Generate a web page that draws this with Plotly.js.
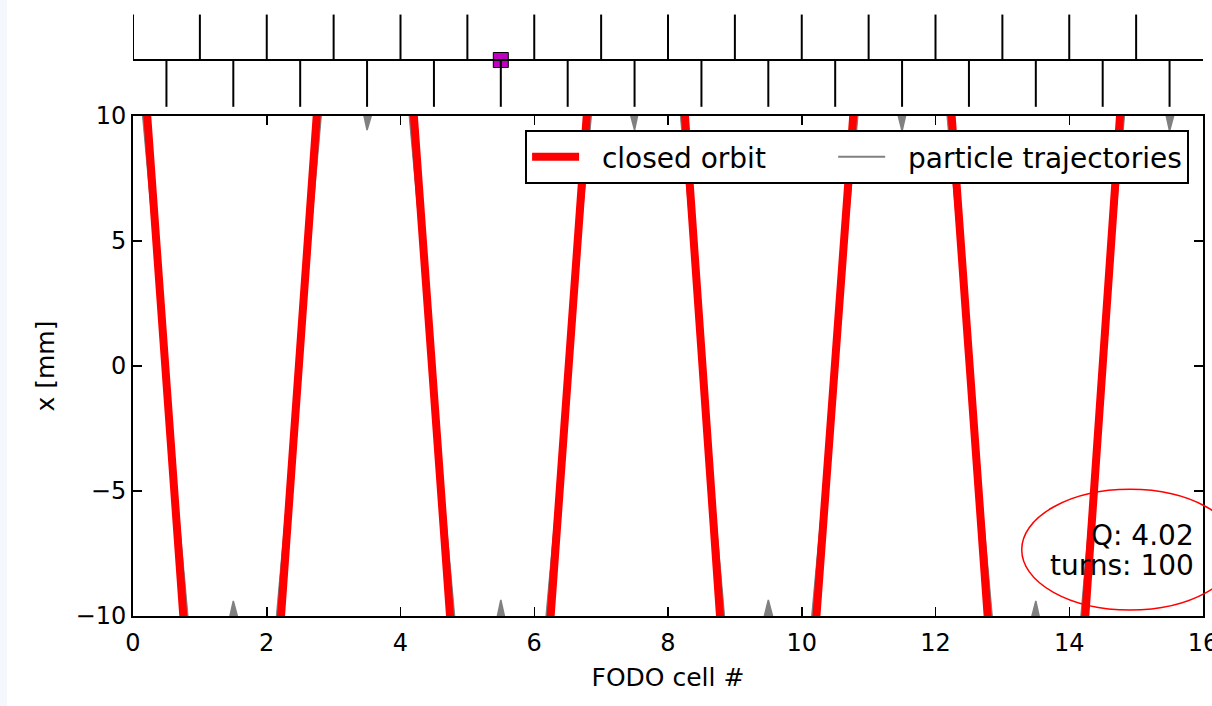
<!DOCTYPE html>
<html>
<head>
<meta charset="utf-8">
<script src="https://cdn.plot.ly/plotly-3.0.1.min.js"></script>
<style>
  html, body { margin: 0; padding: 0; background: #ffffff; }
  #chart { width: 1212px; height: 706px; }
  #strip { position: fixed; left: 0; top: 0; width: 7px; height: 706px; background: #f4f7fc; pointer-events: none; }
</style>
</head>
<body>
<div id="chart"></div>
<div id="strip"></div>
<script>
// ---- data ----
const cellPos = [0,0.5,1,1.5,2,2.5,3,3.5,4,4.5,5,5.5,6,6.5,7,7.5,8,8.5,9,9.5,10,10.5,11,11.5,12,12.5,13,13.5,14,14.5,15,15.5,16];
const closedOrbit = [17.9,-0.6,-19.2,-11.75,-18.0,0.75,19.5,11.8,17.4,-1.1,-19.6,-11.7,-19.1,-0.54,18.0,11.8,19.7,0.6,-18.5,-11.7,-18.0,0.2,18.4,11.75,19.0,0.4,-18.2,-11.75,-19.3,0.04,19.3,11.75,17.9];
const trajA = [14.32,-0.48,-15.36,-9.40,-14.40,0.60,15.60,9.44,13.92,-0.88,-15.68,-9.36,-15.28,-0.43,14.40,9.44,15.76,0.48,-14.80,-9.36,-14.40,0.16,14.72,9.40,15.20,0.32,-14.56,-9.40,-15.44,0.03,15.44,9.40,14.32];
const trajB = [14.86,-0.50,-15.94,-9.75,-14.94,0.62,16.19,9.79,14.44,-0.91,-16.27,-9.71,-15.85,-0.45,14.94,9.79,16.35,0.50,-15.36,-9.71,-14.94,0.17,15.27,9.75,15.77,0.33,-15.11,-9.75,-16.02,0.03,16.02,9.75,14.86];
const trajC = [15.75,-0.53,-16.90,-10.34,-15.84,0.66,17.16,10.38,15.31,-0.97,-17.25,-10.30,-16.81,-0.48,15.84,10.38,17.34,0.53,-16.28,-10.30,-15.84,0.18,16.19,10.34,16.72,0.35,-16.02,-10.34,-16.98,0.04,16.98,10.34,15.75];
const trajD = [17.01,-0.57,-18.24,-11.16,-17.10,0.71,18.53,11.21,16.53,-1.05,-18.62,-11.12,-18.15,-0.51,17.10,11.21,18.72,0.57,-17.58,-11.12,-17.10,0.19,17.48,11.16,18.05,0.38,-17.29,-11.16,-18.34,0.04,18.34,11.16,17.01];
const trajE = [18.97,-0.64,-20.35,-12.46,-19.08,0.80,20.67,12.51,18.44,-1.17,-20.78,-12.40,-20.25,-0.57,19.08,12.51,20.88,0.64,-19.61,-12.40,-19.08,0.21,19.50,12.46,20.14,0.42,-19.29,-12.46,-20.46,0.04,20.46,12.46,18.97];

const focusQuads = [0,1,2,3,4,5,6,7,8,9,10,11,12,13,14,15];
const defocusQuads = [0.5,1.5,2.5,3.5,4.5,5.5,6.5,7.5,8.5,9.5,10.5,11.5,12.5,13.5,14.5,15.5];
const latticeSpan = [0, 16];
const kickerPos = [5.5];

const xTickVals = [0,2,4,6,8,10,12,14,16];
const xTickText = ['0','2','4','6','8','10','12','14','16'];
const yTickVals = [-10,-5,0,5,10];
const yTickText = ['\u221210','\u22125','0','5','10'];

const legendNames = ['closed orbit', 'particle trajectories'];
const infoLines = ['Q: 4.02', 'turns: 100'];

// ---- build traces ----
function stems(positions, top) {
  const xs = [], ys = [];
  positions.forEach(p => { xs.push(p, p, null); ys.push(0, top, null); });
  return {xs, ys};
}
const NB = '\u00a0';
const FONT = 'DejaVu Sans, Liberation Sans, sans-serif';
const GRAY = '#808080';
const traces = [];

// envelope of the particle trajectories (dense band), then individual trajectories
traces.push({x: cellPos, y: trajE, type: 'scatter', mode: 'lines', line: {color: GRAY, width: 1.5},
  showlegend: false, xaxis: 'x', yaxis: 'y', hoverinfo: 'skip'});
traces.push({x: cellPos, y: trajA, type: 'scatter', mode: 'lines', line: {color: GRAY, width: 1.5},
  fill: 'tonexty', fillcolor: GRAY, showlegend: false, xaxis: 'x', yaxis: 'y', hoverinfo: 'skip'});
[trajB, trajC, trajD].forEach((t, i) => {
  traces.push({
    x: cellPos, y: t, type: 'scatter', mode: 'lines',
    line: {color: GRAY, width: 2},
    name: NB + NB + legendNames[1], showlegend: i === 0, legendrank: 2,
    xaxis: 'x', yaxis: 'y', hoverinfo: 'skip'
  });
});
traces.push({
  x: cellPos, y: closedOrbit, type: 'scatter', mode: 'lines',
  line: {color: '#ff0000', width: 8},
  name: NB + NB + legendNames[0] + NB.repeat(7), showlegend: true, legendrank: 1,
  xaxis: 'x', yaxis: 'y', hoverinfo: 'skip'
});

// lattice
traces.push({
  x: kickerPos, y: kickerPos.map(() => 0), type: 'scatter', mode: 'markers',
  marker: {symbol: 'square', size: 15, color: '#bf00bf', line: {color: '#000000', width: 1}},
  showlegend: false, xaxis: 'x2', yaxis: 'y2', cliponaxis: false, hoverinfo: 'skip'
});
const up = stems(focusQuads, 1);
const dn = stems(defocusQuads, -1.03);
[up, dn].forEach(s => traces.push({
  x: s.xs, y: s.ys, type: 'scatter', mode: 'lines',
  line: {color: '#000000', width: 2}, showlegend: false, xaxis: 'x2', yaxis: 'y2', hoverinfo: 'skip', cliponaxis: false
}));
traces.push({
  x: latticeSpan, y: [0, 0], type: 'scatter', mode: 'lines',
  line: {color: '#000000', width: 2}, showlegend: false, xaxis: 'x2', yaxis: 'y2', hoverinfo: 'skip', cliponaxis: false
});

const axisStyle = {
  showgrid: false, zeroline: false, showline: true, linecolor: '#000000', linewidth: 2,
  mirror: 'ticks', ticks: 'inside', ticklen: 9, tickwidth: 1.5, tickcolor: '#000000',
  ticklabeloverflow: 'allow',
  tickfont: {family: FONT, size: 24, color: '#000000'}
};

const layout = {
  width: 1212, height: 706,
  margin: {l: 133, r: 9, t: 10, b: 90},
  paper_bgcolor: '#ffffff', plot_bgcolor: '#ffffff',
  font: {family: FONT, color: '#000000'},
  xaxis: Object.assign({}, axisStyle, {
    domain: [0, 1], anchor: 'y', range: [0, 16],
    tickvals: xTickVals, ticktext: xTickText, ticklabelstandoff: 4,
    title: {text: 'FODO cell #', font: {family: FONT, size: 25, color: '#000000'}, standoff: 13}
  }),
  yaxis: Object.assign({}, axisStyle, {
    domain: [0, 0.8251], anchor: 'x', range: [-10, 10],
    tickvals: yTickVals, ticktext: yTickText, ticklabelstandoff: 0,
    title: {text: 'x [mm]', font: {family: FONT, size: 25, color: '#000000'}, standoff: 14}
  }),
  xaxis2: {domain: [0, 1], anchor: 'y2', range: [0, 16], visible: false, matches: 'x'},
  yaxis2: {domain: [0.835, 1], anchor: 'x2', range: [-1.1, 1.1], visible: false},
  showlegend: true,
  legend: {
    orientation: 'h', x: 0.987, xanchor: 'right', y: 0.802, yanchor: 'top', traceorder: 'normal',
    bgcolor: '#ffffff', bordercolor: '#000000', borderwidth: 2,
    font: {family: FONT, size: 28, color: '#000000'}, itemwidth: 47
  },
  annotations: [
    {xref: 'x', yref: 'y', x: 15.9, y: -6.8, text: infoLines[0], showarrow: false,
     xanchor: 'right', yanchor: 'middle', font: {family: FONT, size: 28, color: '#000000'}},
    {xref: 'x', yref: 'y', x: 15.9, y: -8.0, text: infoLines[1], showarrow: false,
     xanchor: 'right', yanchor: 'middle', font: {family: FONT, size: 28, color: '#000000'}}
  ],
  shapes: [
    {type: 'circle', xref: 'paper', yref: 'paper', x0: 0.8306, x1: 1.033, y0: 0.0099, y1: 0.209,
     line: {color: '#ff0000', width: 1.5}, fillcolor: 'rgba(0,0,0,0)', layer: 'above'}
  ]
};

Plotly.newPlot('chart', traces, layout, {displayModeBar: false, staticPlot: true});
</script>
</body>
</html>
